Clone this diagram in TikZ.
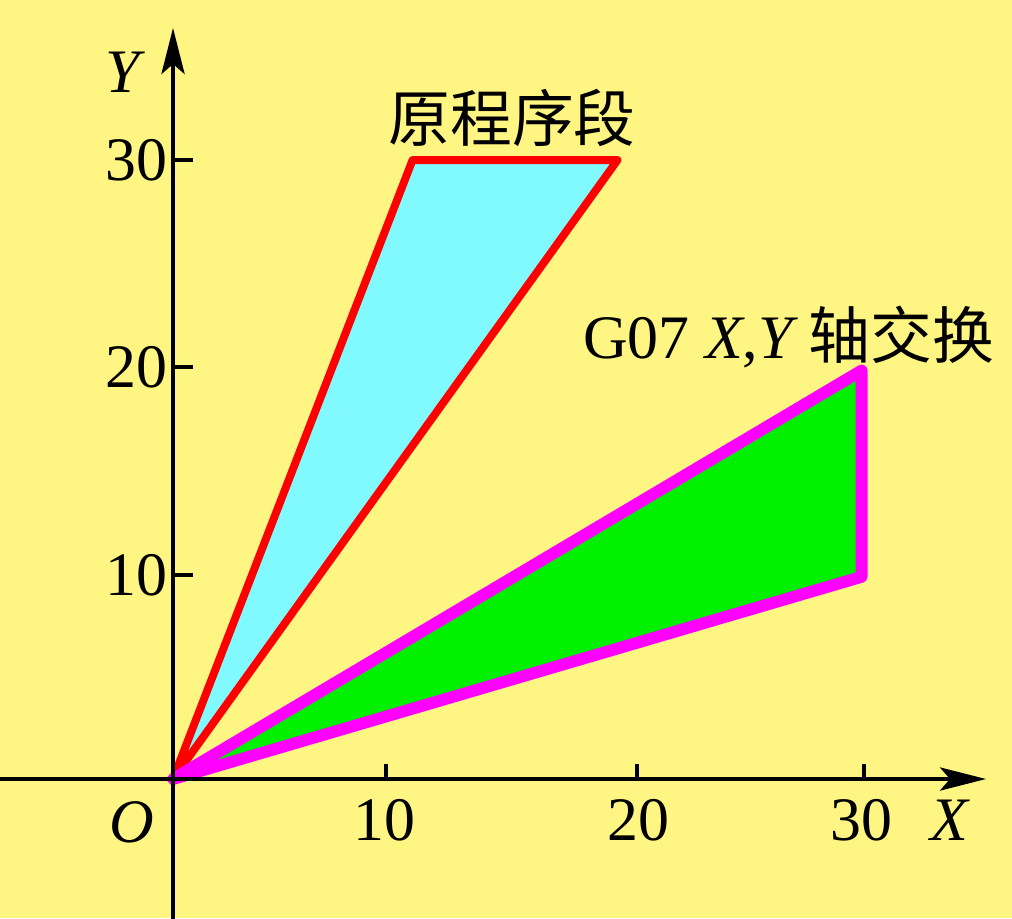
\documentclass[tikz,border=0pt]{standalone}
\usepackage{fontspec}
\setmainfont{Liberation Serif}
\newfontfamily\cjk{Noto Sans CJK SC}
\usetikzlibrary{arrows.meta}
\definecolor{paperYellow}{RGB}{255,245,130}
\definecolor{lightCyan}{RGB}{128,250,255}
\definecolor{brightGreen}{RGB}{0,240,0}
\definecolor{brightMagenta}{RGB}{255,0,255}
\tikzstyle{axisLine} = [line width=2.6pt, draw=black,
	-{Stealth[length=1.15cm, width=0.58cm, inset=0.25cm]}]
\tikzstyle{tickLine} = [line width=2.6pt, draw=black]
\tikzstyle{edgeLine} = [line width=2pt, draw=black, line join=round]
\tikzstyle{redEdge} = [line width=5.6pt, draw=red, line join=round]
\tikzstyle{pinkEdge} = [line width=8.4pt, draw=brightMagenta, line join=round]
\tikzstyle{bigText} = [text=black, inner sep=0pt, font=\fontsize{44}{50}\selectfont]

\begin{document}
\begin{tikzpicture}[x=0.576cm, y=0.516cm]
  \fill [paperYellow] (-7.513,-6.738) rectangle (36.43,37.76);
  \useasboundingbox (-7.513,-6.738) rectangle (36.43,37.76);

  \coordinate (O) at (0,0);
  \coordinate (A) at (10.4,30);
  \coordinate (B) at (19.3,30);
  \coordinate (C) at (29.9,19.8);
  \coordinate (D) at (29.9,9.8);
  \coordinate (XEND) at (35.3,0);
  \coordinate (XBEG) at (-7.6,0);
  \coordinate (YEND) at (0,36.4);
  \coordinate (YBEG) at (0,-6.8);

  % original block
  \fill [lightCyan] (O) -- (A) -- (B) -- cycle;
  \draw [edgeLine] (O) -- (A) -- (B) -- cycle;
  \draw [redEdge, shift={(0.17cm,-0.03cm)}] (O) -- (A) -- (B) -- cycle;

  % swapped block
  \fill [brightGreen] (O) -- (C) -- (D) -- cycle;
  \draw [edgeLine] (O) -- (C) -- (D) -- cycle;
  \draw [pinkEdge, shift={(0.22cm,-0.12cm)}] (O) -- (C) -- (D) -- cycle;

  % axes
  \draw [axisLine] (XBEG) -- (XEND);
  \draw [axisLine] (YBEG) -- (YEND);

  \foreach \t/\v in {9.25/10, 20.15/20, 30/30}
    \draw [tickLine] (\t,0) -- (\t,0.73);
  \foreach \t/\v in {9.9/10, 19.97/20, 30/30}
    \draw [tickLine] (0,\t) -- (0.85,\t);

  \foreach \t/\v in {9.2/10, 20.2/20, 29.9/30}
    \node (XT\v) [bigText] at (\t,-2.0) {\v};
  \foreach \t/\v in {9.9/10, 19.97/20, 30/30}
    \node (YT\v) [bigText, anchor=east] at (-0.25,\t) {\v};

  \node (ORIG) [bigText] at (-1.78,-2.08) {\textit{O}};
  \node (XLAB) [bigText] at (33.74,-2.0) {\textit{X}};
  \node (YLAB) [bigText] at (-2.08,34.27) {\textit{Y}};
  \node (TITLE) [bigText] at (14.72,32.04) {\cjk 原程序段};
  \node (SWAP) [bigText, anchor=west] at (17.8,21.43)
    {G07 \textit{X},\textit{Y}\,{\cjk 轴交换}};

\end{tikzpicture}
\end{document}
